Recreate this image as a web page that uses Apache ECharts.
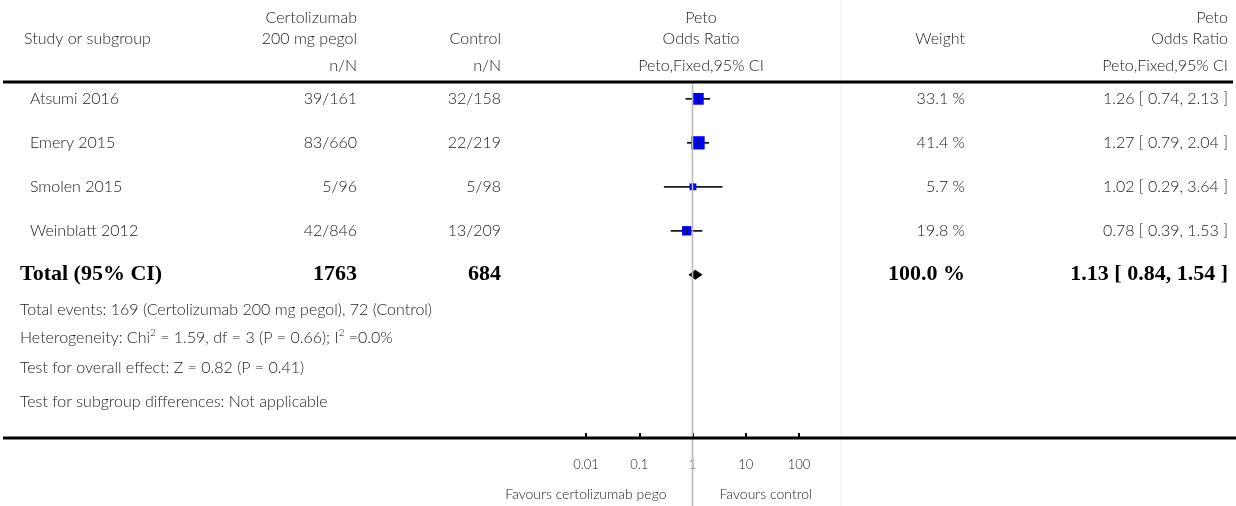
<!DOCTYPE html>
<html>
<head>
<meta charset="utf-8">
<script src="https://cdn.jsdelivr.net/npm/echarts@6/dist/echarts.min.js"></script>
<style>
html,body{margin:0;padding:0;background:#fff;}
#chart{width:1236px;height:506px;}
</style>
</head>
<body>
<div id="chart"></div>
<script>
// ---- data ----
const studies = ['Atsumi 2016', 'Emery 2015', 'Smolen 2015', 'Weinblatt 2012'];
const treatEvents = ['39/161', '83/660', '5/96', '42/846'];
const controlEvents = ['32/158', '22/219', '5/98', '13/209'];
const weights = [33.1, 41.4, 5.7, 19.8];
const oddsRatios = [1.26, 1.27, 1.02, 0.78];
const ciLower = [0.74, 0.79, 0.29, 0.39];
const ciUpper = [2.13, 2.04, 3.64, 1.53];
const totalLabel = 'Total (95% CI)';
const totalTreat = 1763;
const totalControl = 684;
const totalWeight = 100.0;
const totalOR = 1.13;
const totalLower = 0.84;
const totalUpper = 1.54;
const tickValues = [0.01, 0.1, 1, 10, 100];
const tickLabels = ['0.01', '0.1', '1', '10', '100'];
const footnotes = [
  'Total events: 169 (Certolizumab 200 mg pegol), 72 (Control)',
  'Heterogeneity: Chi{sup|2} = 1.59, df = 3 (P = 0.66); I{sup|2} =0.0%',
  'Test for overall effect: Z = 0.82 (P = 0.41)',
  'Test for subgroup differences: Not applicable'
];
const favourLeft = 'Favours certolizumab pego';
const favourRight = 'Favours control';

// ---- layout ----
const FONT = 'Lato, "Open Sans", sans-serif';
const SERIF = '"Liberation Serif", "DejaVu Serif", serif';
const TXT = '#222';
const FS = 16;
const FW = 300;
const colStudyX = 30, colTreatX = 357, colCtrlX = 501, colWeightX = 965, colORX = 1228, colPlotHeadX = 701;
const topLineY = 82, bottomLineY = 438;

const chart = echarts.init(document.getElementById('chart'), null, {renderer: 'canvas'});

const studyData = studies.map((s, i) => [oddsRatios[i], i, ciLower[i], ciUpper[i], weights[i]]);
const totalIdx = studies.length;

const fmt2 = v => v.toFixed(2);
const ciText = (o, l, u) => fmt2(o) + ' [ ' + fmt2(l) + ', ' + fmt2(u) + ' ]';

const option = {
  animation: false,
  backgroundColor: '#fff',
  grid: {left: 586, width: 213, top: topLineY + 1, height: bottomLineY - topLineY - 1},
  xAxis: {
    type: 'log', logBase: 10, min: 0.01, max: 100,
    axisLine: {show: false, onZero: false},
    splitLine: {show: false},
    axisTick: {show: true, inside: true, length: 5, lineStyle: {color: '#000', width: 2}},
    axisLabel: {
      margin: 20, fontFamily: FONT, fontSize: 13, fontWeight: FW, color: TXT,
      formatter: v => { const k = tickValues.findIndex(t => Math.abs(Math.log10(t) - Math.log10(v)) < 1e-6); return k >= 0 ? tickLabels[k] : ''; }
    }
  },
  yAxis: {type: 'value', inverse: true, min: -0.36, max: 7.71, show: false},
  series: [
    {
      type: 'custom', clip: false,
      encode: {x: 0, y: 1},
      data: studyData,
      renderItem: function (params, api) {
        const i = api.value(1);
        const pC = api.coord([api.value(0), i]);
        const pL = api.coord([api.value(2), i]);
        const pU = api.coord([api.value(3), i]);
        const s = 5.8 + 0.18 * api.value(4);
        return {type: 'group', children: [
          {type: 'line', shape: {x1: pL[0], y1: pL[1], x2: pU[0], y2: pU[1]}, style: {stroke: '#1a1a1a', lineWidth: 1.8}},
          {type: 'rect', shape: {x: pC[0] - s / 2, y: pC[1] - s / 2, width: s, height: s}, style: {fill: '#0000ff'}},
          {type: 'line', shape: {x1: pC[0], y1: pC[1] - 3.5, x2: pC[0], y2: pC[1] + 3.5}, style: {stroke: '#111', lineWidth: 1.2}}
        ]};
      }
    },
    {
      type: 'custom', clip: false,
      encode: {x: 0, y: 1},
      data: [[totalOR, totalIdx, totalLower, totalUpper]],
      renderItem: function (params, api) {
        const i = api.value(1);
        const pC = api.coord([api.value(0), i]);
        const pL = api.coord([api.value(2), i]);
        const pU = api.coord([api.value(3), i]);
        const h = 5;
        return {type: 'polygon', shape: {points: [[pL[0], pL[1]], [pC[0], pC[1] - h], [pU[0], pU[1]], [pC[0], pC[1] + h]]}, style: {fill: '#000'}};
      }
    }
  ]
};
chart.setOption(option);

const rowY = i => chart.convertToPixel({yAxisIndex: 0}, i);
const xOne = chart.convertToPixel({xAxisIndex: 0}, 1);

function txt(x, y, text, align, extra) {
  return {
    type: 'text', x: x, y: y, z: 10,
    style: Object.assign({text: text, align: align || 'left', verticalAlign: 'middle', fontFamily: FONT, fontSize: FS, fontWeight: FW, fill: TXT}, (extra && extra.style) || {})
  };
}
const bold = {style: {fontFamily: SERIF, fontSize: 22, fontWeight: 'bold', fill: '#000'}};

const g = [];
// lines
g.push({type: 'line', z: 1, shape: {x1: 841, y1: 0, x2: 841, y2: 506}, style: {stroke: '#efefef', lineWidth: 1}});
g.push({type: 'line', z: 2, shape: {x1: xOne, y1: topLineY, x2: xOne, y2: 506}, style: {stroke: '#bbbbbb', lineWidth: 1.6}});
g.push({type: 'line', z: 5, shape: {x1: 3, y1: topLineY, x2: 1233, y2: topLineY}, style: {stroke: '#000', lineWidth: 3}});
g.push({type: 'line', z: 5, shape: {x1: 3, y1: bottomLineY, x2: 1236, y2: bottomLineY}, style: {stroke: '#000', lineWidth: 3}});

// headers
g.push(txt(colStudyX - 6, 39, 'Study or subgroup'));
g.push(txt(colTreatX, 18, 'Certolizumab', 'right'));
g.push(txt(colTreatX, 39, '200 mg pegol', 'right'));
g.push(txt(colCtrlX, 39, 'Control', 'right'));
g.push(txt(colTreatX, 66, 'n/N', 'right'));
g.push(txt(colCtrlX, 66, 'n/N', 'right'));
g.push(txt(colPlotHeadX, 18, 'Peto', 'center'));
g.push(txt(colPlotHeadX, 39, 'Odds Ratio', 'center'));
g.push(txt(colPlotHeadX, 66, 'Peto,Fixed,95% CI', 'center'));
g.push(txt(colWeightX, 39, 'Weight', 'right'));
g.push(txt(colORX, 18, 'Peto', 'right'));
g.push(txt(colORX, 39, 'Odds Ratio', 'right'));
g.push(txt(colORX, 66, 'Peto,Fixed,95% CI', 'right'));

// study rows
studies.forEach((s, i) => {
  const y = rowY(i);
  g.push(txt(colStudyX, y, s));
  g.push(txt(colTreatX, y, treatEvents[i], 'right'));
  g.push(txt(colCtrlX, y, controlEvents[i], 'right'));
  g.push(txt(colWeightX, y, weights[i].toFixed(1) + ' %', 'right'));
  g.push(txt(colORX, y, ciText(oddsRatios[i], ciLower[i], ciUpper[i]), 'right'));
});

// total row
const ty = rowY(totalIdx);
g.push(txt(20, ty, totalLabel, 'left', bold));
g.push(txt(colTreatX, ty, String(totalTreat), 'right', bold));
g.push(txt(colCtrlX, ty, String(totalControl), 'right', bold));
g.push(txt(colWeightX, ty, totalWeight.toFixed(1) + ' %', 'right', bold));
g.push(txt(colORX, ty, ciText(totalOR, totalLower, totalUpper), 'right', bold));

// footnotes
const footY = [310, 338, 368, 402];
footnotes.forEach((f, k) => {
  g.push({
    type: 'text', x: 20, y: footY[k], z: 10,
    style: {
      text: f, align: 'left', verticalAlign: 'middle', fontFamily: FONT, fontSize: FS, fontWeight: FW, fill: TXT, lineHeight: 20,
      rich: {sup: {fontFamily: FONT, fontSize: 10, fontWeight: FW, fill: TXT, lineHeight: 11, verticalAlign: 'top'}}
    }
  });
});

// favours labels
g.push(txt(xOne - 26, 494, favourLeft, 'right', {style: {fontSize: 14}}));
g.push(txt(xOne + 27, 494, favourRight, 'left', {style: {fontSize: 14}}));

chart.setOption({graphic: g});
</script>
</body>
</html>
